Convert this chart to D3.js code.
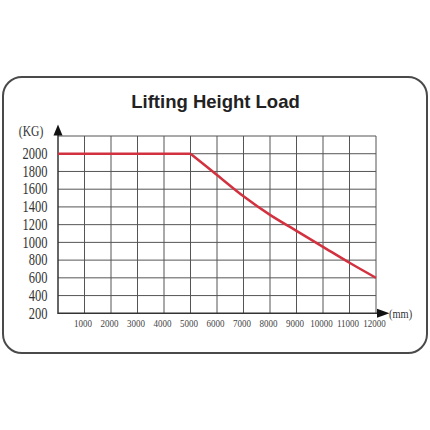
<!DOCTYPE html>
<html><head><meta charset="utf-8">
<script src="https://cdn.jsdelivr.net/npm/d3@7"></script>
<style>html,body{margin:0;padding:0;background:#fff;}svg{display:block;}</style>
</head><body>
<script>
const title = "Lifting Height Load";
const heights = [0, 1000, 2000, 3000, 4000, 5000, 6000, 7000, 8000, 9000, 10000, 11000, 12000];
const loads = [2000, 2000, 2000, 2000, 2000, 2000, 1760, 1520, 1310, 1130, 950, 770, 600];
const xTicks = [1000, 2000, 3000, 4000, 5000, 6000, 7000, 8000, 9000, 10000, 11000, 12000];
const yTicks = [200, 400, 600, 800, 1000, 1200, 1400, 1600, 1800, 2000];
const yUnit = "(KG)", xUnit = "(mm)";

const W = 430, H = 430;
const svg = d3.select("body").append("svg").attr("width", W).attr("height", H);

svg.append("rect").attr("x", 3).attr("y", 77).attr("width", 424).attr("height", 276)
  .attr("rx", 19).attr("fill", "#fff").attr("stroke", "#4a4a4a").attr("stroke-width", 2);

svg.append("text").attr("x", 215.5).attr("y", 108).attr("text-anchor", "middle")
  .attr("font-family", "Liberation Sans, Arial, sans-serif").attr("font-weight", "bold")
  .attr("font-size", 18.5).attr("fill", "#222").text(title);

const x = d3.scaleLinear().domain([0, 12000]).range([58, 376]);
const y = d3.scaleLinear().domain([200, 2200]).range([313.3, 136]);

const grid = svg.append("g").attr("stroke", "#555").attr("stroke-width", 1).attr("fill", "none");
x.ticks(12).forEach(t => {
  if (t === 0) return;
  grid.append("line").attr("x1", x(t)).attr("x2", x(t)).attr("y1", y(2200)).attr("y2", y(200));
});
d3.range(400, 2201, 200).forEach(t => {
  grid.append("line").attr("x1", x(0)).attr("x2", x(12000)).attr("y1", y(t)).attr("y2", y(t));
});

// axes
const ax = svg.append("g").attr("stroke", "#333").attr("stroke-width", 1.5);
ax.append("line").attr("x1", x(0)).attr("x2", x(0)).attr("y1", y(200)+0.7).attr("y2", 133);
ax.append("line").attr("x1", x(0)).attr("x2", 380).attr("y1", y(200)).attr("y2", y(200));
svg.append("path").attr("d", `M${x(0)},124.5 L${x(0)-4.5},135.5 L${x(0)+4.5},135.5 Z`).attr("fill", "#111");
svg.append("path").attr("d", `M389.5,${y(200)} L377,${y(200)-4.5} L377,${y(200)+4.5} Z`).attr("fill", "#111");

// line: flat part straight, declining part smooth
const pts = heights.map((h, i) => [h, loads[i]]);
const flat = pts.filter(p => p[0] <= 5000);
const decl = pts.filter(p => p[0] >= 5000);
const lineLin = d3.line().x(d => x(d[0])).y(d => y(d[1]));
const lineMono = d3.line().x(d => x(d[0])).y(d => y(d[1])).curve(d3.curveMonotoneX);
const red = "#d2323f";
svg.append("path").attr("d", lineLin(flat)).attr("fill", "none")
  .attr("stroke", red).attr("stroke-width", 2.5);
svg.append("path").attr("d", lineMono(decl)).attr("fill", "none")
  .attr("stroke", red).attr("stroke-width", 2.5).attr("stroke-linejoin", "round");

const serif = "Liberation Serif, Times New Roman, serif";
// y labels
yTicks.forEach(t => {
  svg.append("text").attr("transform", `translate(47.5,${y(t)+5.3}) scale(0.78,1)`)
    .attr("text-anchor", "end").attr("font-family", serif).attr("font-size", 16)
    .attr("fill", "#333").text(t);
});
// x labels
xTicks.forEach(t => {
  svg.append("text").attr("transform", `translate(${x(t)-1.5},${326.5}) scale(0.82,1)`)
    .attr("text-anchor", "middle").attr("font-family", serif).attr("font-size", 11)
    .attr("fill", "#444").text(t);
});
svg.append("text").attr("transform", `translate(31,135.5) scale(0.8,1)`)
  .attr("text-anchor", "middle").attr("font-family", serif).attr("font-size", 14.5)
  .attr("fill", "#333").text(yUnit);
svg.append("text").attr("transform", `translate(389,317.5) scale(0.8,1)`)
  .attr("text-anchor", "start").attr("font-family", serif).attr("font-size", 13)
  .attr("fill", "#333").text(xUnit);
</script>
</body></html>
